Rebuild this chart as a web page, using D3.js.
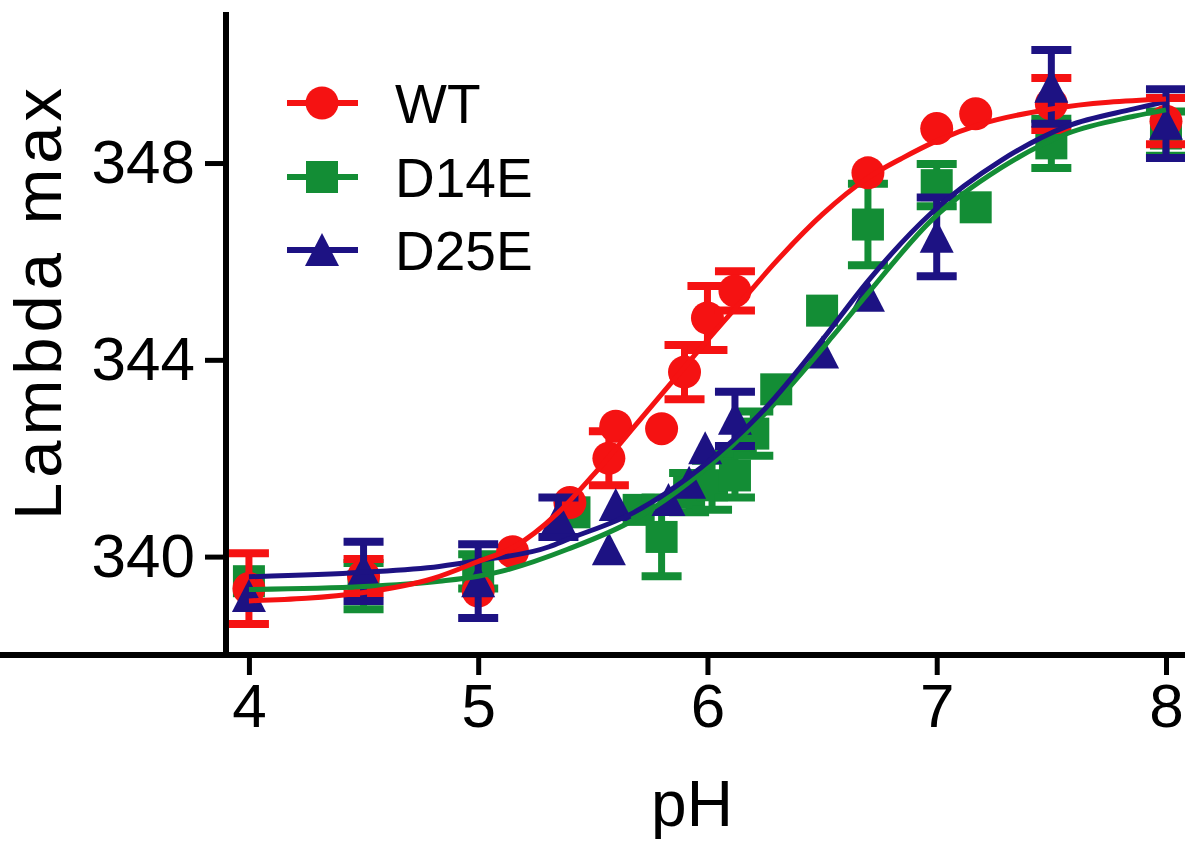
<!DOCTYPE html>
<html lang="en">
<head>
    <meta charset="UTF-8">
    <title>Lambda max vs pH</title>
    <script src="https://cdn.jsdelivr.net/npm/d3@7/dist/d3.min.js"></script>
    <style>
        *{
            padding: 0;
            margin: 0;
        }
        body{
            background: #fff;
        }
        svg{
            display: block;
            font-family: "Liberation Sans", Arial, sans-serif;
        }
    </style>
</head>
<body>
    <script>
        // measured points (pH, lambda max, error)
        let wtPH   = [4.0, 4.5, 5.0, 5.15, 5.4, 5.57, 5.6, 5.8, 5.9, 6.0, 6.12, 6.7, 7.0, 7.17, 7.5, 8.0];
        let wtVal  = [339.35, 339.6, 339.3, 340.1, 341.1, 342.0, 342.65, 342.6, 343.75, 344.85, 345.4, 347.8, 348.7, 349.0, 349.2, 348.85];
        let wtErr  = [0.72, 0.35, 0.15, 0.1, 0.1, 0.55, 0.2, 0.1, 0.55, 0.65, 0.4, 0.1, 0.1, 0.1, 0.53, 0.47];

        let d14PH  = [4.0, 4.5, 5.0, 5.42, 5.7, 5.8, 5.92, 6.02, 6.12, 6.2, 6.3, 6.5, 6.7, 7.0, 7.17, 7.5, 8.0];
        let d14Val = [339.5, 339.4, 339.7, 340.9, 340.95, 340.4, 341.3, 341.45, 341.65, 342.5, 343.4, 345.0, 346.75, 347.55, 347.1, 348.4, 348.6];
        let d14Err = [0.3, 0.47, 0.35, 0.15, 0.3, 0.8, 0.4, 0.5, 0.45, 0.45, 0.15, 0.15, 0.83, 0.43, 0.15, 0.5, 0.45];

        let d25PH  = [4.0, 4.5, 5.0, 5.35, 5.57, 5.6, 5.83, 5.92, 5.99, 6.12, 6.5, 6.7, 7.0, 7.5, 8.0];
        let d25Val = [339.2, 339.7, 339.5, 340.8, 340.15, 341.05, 341.15, 341.5, 342.2, 342.8, 344.15, 345.3, 346.5, 349.55, 348.8];
        let d25Err = [0.1, 0.6, 0.75, 0.4, 0.1, 0.1, 0.1, 0.1, 0.1, 0.55, 0.1, 0.1, 0.8, 0.75, 0.7];

        // fitted curves
        let wtFitPH   = [4.0, 4.5, 4.8, 5.0, 5.15, 5.35, 5.5, 5.7, 5.9, 6.0, 6.15, 6.3, 6.5, 6.7, 6.85, 7.0, 7.2, 7.5, 8.0];
        let wtFitVal  = [339.1, 339.27, 339.55, 339.9, 340.18, 340.9, 341.65, 342.75, 343.85, 344.4, 345.2, 346.0, 346.95, 347.7, 348.1, 348.45, 348.8, 349.1, 349.3];
        let d14FitPH  = [4.0, 4.5, 4.83, 5.0, 5.1, 5.39, 5.68, 5.97, 6.26, 6.55, 6.7, 6.98, 7.28, 7.57, 7.86, 8.0];
        let d14FitVal = [339.33, 339.39, 339.5, 339.6, 339.7, 340.15, 340.75, 341.7, 342.95, 344.5, 345.35, 346.85, 347.9, 348.6, 348.95, 349.08];
        let d25FitPH  = [4.0, 4.5, 4.83, 5.0, 5.31, 5.39, 5.68, 5.97, 6.26, 6.5, 6.7, 6.98, 7.28, 7.57, 7.86, 8.0];
        let d25FitVal = [339.59, 339.68, 339.8, 339.92, 340.2, 340.35, 340.9, 341.8, 343.05, 344.4, 345.6, 347.0, 348.05, 348.75, 349.1, 349.25];

        let xTicks = [4, 5, 6, 7, 8];
        let yTicks = [340, 344, 348];
        let seriesNames = ["WT", "D14E", "D25E"];

        let red = "#f51212";
        let green = "#138d35";
        let blue = "#1d1283";

        let W = 1185, H = 841;
        var svg = d3.select("body")
            .append("svg")
            .attr("width", W)
            .attr("height", H);

        let x = d3.scaleLinear().domain([3.9, 8.1]).range([226, 1188.9]);
        let y = d3.scaleLinear().domain([338, 351.07]).range([655, 12]);

        // axes
        let gx = svg.append("g").attr("transform", "translate(0,655)")
            .call(d3.axisBottom(x).tickValues(xTicks).tickFormat(d3.format("d"))
                .tickSize(20).tickSizeOuter(0).tickPadding(8));
        let gy = svg.append("g").attr("transform", "translate(226,0)")
            .call(d3.axisLeft(y).tickValues(yTicks).tickFormat(d3.format("d"))
                .tickSize(21).tickSizeOuter(0).tickPadding(10));
        [gx, gy].forEach(function (g) {
            g.select(".domain").attr("stroke", "#000").attr("stroke-width", 6);
            g.selectAll(".tick line").attr("stroke", "#000").attr("stroke-width", 5);
            g.selectAll(".tick text").attr("fill", "#000")
                .style("font-size", "62px").style("font-family", "Liberation Sans, Arial, sans-serif");
        });
        // close the corner
        gy.select(".domain").attr("d", "M0," + y.range()[1] + "V" + (y.range()[0] + 3));
        gx.select(".domain").attr("d", "M-3,0H" + x.range()[1]);

        // axis titles
        svg.append("text")
            .attr("x", 692).attr("y", 826)
            .attr("text-anchor", "middle")
            .style("font-size", "64px")
            .text("pH");
        svg.append("text")
            .attr("transform", "translate(61,304) rotate(-90)")
            .attr("text-anchor", "middle")
            .attr("textLength", 432)
            .attr("lengthAdjust", "spacing")
            .style("font-size", "67px")
            .text("Lambda max");

        // markers
        function drawMarker(g, shape, cx, cy, color) {
            if (shape === "circle") {
                g.append("circle").attr("cx", cx).attr("cy", cy).attr("r", 16.5).attr("fill", color);
            } else if (shape === "square") {
                g.append("rect").attr("x", cx - 16).attr("y", cy - 16)
                    .attr("width", 32).attr("height", 32).attr("fill", color);
            } else {
                g.append("path")
                    .attr("d", "M" + cx + "," + (cy - 17) + "L" + (cx + 17) + "," + (cy + 16) +
                        "L" + (cx - 17) + "," + (cy + 16) + "Z")
                    .attr("fill", color);
            }
        }

        function drawPoints(ph, val, err, shape, color) {
            let g = svg.append("g");
            ph.forEach(function (p, i) {
                let cx = x(p), cy = y(val[i]);
                let top = y(val[i] + err[i]), bot = y(val[i] - err[i]);
                // error bar only when it sticks out of the symbol
                if (bot - cy > 16) {
                    g.append("line").attr("x1", cx).attr("x2", cx).attr("y1", top).attr("y2", bot)
                        .attr("stroke", color).attr("stroke-width", 7);
                    [top, bot].forEach(function (yy) {
                        g.append("line").attr("x1", cx - 20).attr("x2", cx + 20)
                            .attr("y1", yy).attr("y2", yy)
                            .attr("stroke", color).attr("stroke-width", 8);
                    });
                }
                drawMarker(g, shape, cx, cy, color);
            });
        }

        drawPoints(d14PH, d14Val, d14Err, "square", green);
        drawPoints(wtPH, wtVal, wtErr, "circle", red);
        drawPoints(d25PH, d25Val, d25Err, "triangle", blue);

        // fitted curves
        let line = d3.line()
            .x(function (d) { return x(d[0]); })
            .y(function (d) { return y(d[1]); })
            .curve(d3.curveMonotoneX);
        function drawFit(ph, val, color) {
            svg.append("path")
                .datum(ph.map(function (p, i) { return [p, val[i]]; }))
                .attr("d", line)
                .attr("fill", "none")
                .attr("stroke", color)
                .attr("stroke-width", 5);
        }
        drawFit(d14FitPH, d14FitVal, green);
        drawFit(d25FitPH, d25FitVal, blue);
        drawFit(wtFitPH, wtFitVal, red);

        // legend
        let legColors = [red, green, blue];
        let legShapes = ["circle", "square", "triangle"];
        let legY = [103, 177, 250];
        let leg = svg.append("g");
        seriesNames.forEach(function (name, i) {
            leg.append("line").attr("x1", 287).attr("x2", 358)
                .attr("y1", legY[i]).attr("y2", legY[i])
                .attr("stroke", legColors[i]).attr("stroke-width", 6);
            drawMarker(leg, legShapes[i], 322, legY[i], legColors[i]);
            leg.append("text")
                .attr("x", 395).attr("y", legY[i] + 20)
                .style("font-size", "55px")
                .text(name);
        });
    </script>
</body>
</html>
